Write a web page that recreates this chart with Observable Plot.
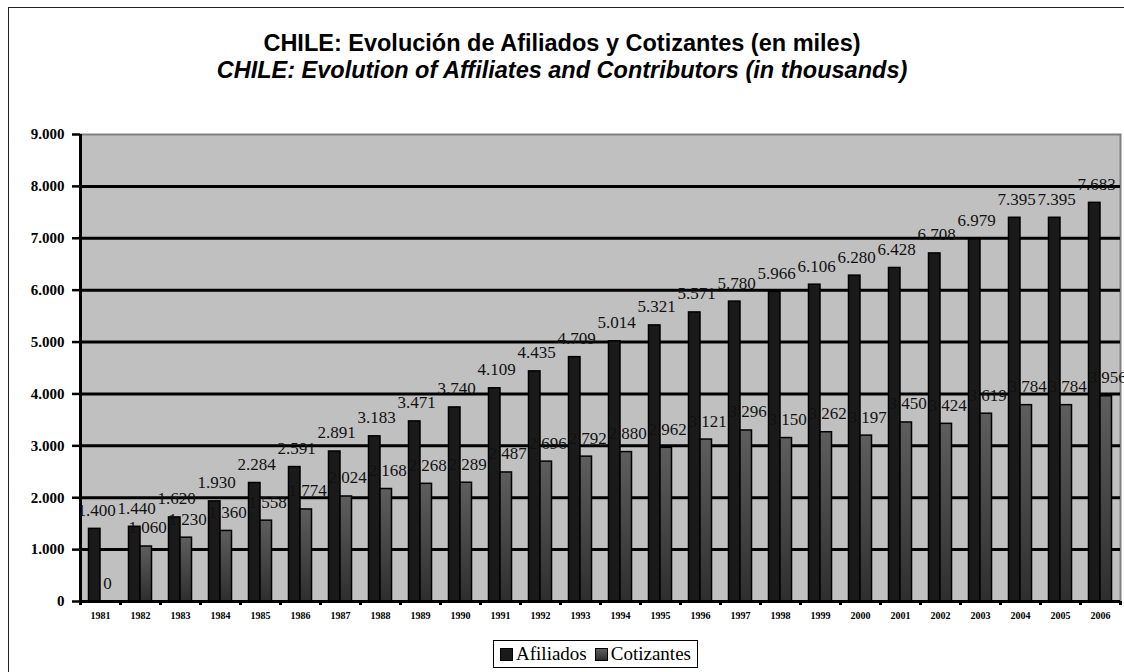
<!DOCTYPE html>
<html>
<head>
<meta charset="utf-8">
<script src="https://cdn.jsdelivr.net/npm/d3@7"></script>
<script src="https://cdn.jsdelivr.net/npm/@observablehq/plot@0.6"></script>
<style>
  body { margin: 0; background: #fff; }
  #wrap { position: relative; width: 1124px; height: 672px; overflow: hidden; background: #fff; }
  #border { position: absolute; left: 8px; top: 7px; width: 1300px; height: 900px; border-left: 1.5px solid #222; border-top: 1.5px solid #222; }
  .t { position: absolute; left: 0; width: 1124px; text-align: center; font-family: "Liberation Sans", Arial, sans-serif; font-weight: bold; font-size: 23.5px; line-height: 28px; color: #000; white-space: nowrap; }
  #chart { position: absolute; left: 0; top: 100px; }
  #legend { position: absolute; left: 493px; top: 640px; width: 203px; height: 26px; border: 1px solid #000; background: #fff; display: flex; align-items: center; justify-content: center; font-family: "Liberation Serif", "Times New Roman", serif; font-size: 19px; color: #000; }
  .sw { display: inline-block; width: 11px; height: 11px; border: 1.5px solid #000; margin-right: 3px; }
</style>
</head>
<body>
<div id="wrap">
  <div id="border"></div>
  <div class="t" style="top:29px;">CHILE: Evolución de Afiliados y Cotizantes (en miles)</div>
  <div class="t" style="top:56px;font-style:italic;">CHILE: Evolution of Affiliates and Contributors (in thousands)</div>
  <div id="chart"></div>
  <div id="legend">
    <span class="sw" style="background:#1a1a1a;"></span><span style="margin-right:8px;">Afiliados</span>
    <span class="sw" style="background:linear-gradient(#5e5e5e,#2e2e2e);"></span><span>Cotizantes</span>
  </div>
</div>
<script>
const years = ["1981","1982","1983","1984","1985","1986","1987","1988","1989","1990","1991","1992","1993","1994","1995","1996","1997","1998","1999","2000","2001","2002","2003","2004","2005","2006"];
const afiliados = [1400,1440,1620,1930,2284,2591,2891,3183,3471,3740,4109,4435,4709,5014,5321,5571,5780,5966,6106,6280,6428,6708,6979,7395,7395,7683];
const cotizantes = [0,1060,1230,1360,1558,1774,2024,2168,2268,2289,2487,2696,2792,2880,2962,3121,3296,3150,3262,3197,3450,3424,3619,3784,3784,3956];
const yTicks = [0,1000,2000,3000,4000,5000,6000,7000,8000,9000];
const gridValues = [1000,2000,3000,4000,5000,6000,7000,8000];

const fmt = d3.formatLocale({decimal: ",", thousands: ".", grouping: [3], currency: ["$", ""]}).format(",d");
const afilData = years.map((y, i) => ({year: y, value: afiliados[i]}));
const cotData = years.map((y, i) => ({year: y, value: cotizantes[i]}));

const plot = Plot.plot({
  width: 1124,
  height: 530,
  marginLeft: 80,
  marginRight: 4,
  marginTop: 34,
  marginBottom: 29,
  style: {fontFamily: "'Liberation Serif', 'Times New Roman', serif", background: "transparent", overflow: "visible", color: "#000"},
  x: {type: "band", domain: years, padding: 0, label: null},
  y: {domain: [0, 9000], label: null},
  marks: [
    Plot.frame({fill: "#c0c0c0", stroke: "#808080", strokeWidth: 2}),
    Plot.ruleY(gridValues, {stroke: "#000", strokeWidth: 3}),
    Plot.barY(afilData, {x: "year", y: "value", fill: "#1a1a1a", stroke: "#000", strokeWidth: 1.5, insetLeft: 8.5, insetRight: 20}),
    Plot.barY(cotData, {x: "year", y: "value", fill: "url(#cotGrad)", stroke: "#000", strokeWidth: 1.5, insetLeft: 20, insetRight: 8.5}),
    Plot.ruleY([0], {stroke: "#000", strokeWidth: 3}),
    Plot.ruleX([years[0]], {dx: -20, stroke: "#000", strokeWidth: 3}),
    Plot.ruleX(years, {dx: -20, y1: 0, y2: 0, insetBottom: -4, stroke: "#000", strokeWidth: 3}),
    Plot.ruleX([years[years.length - 1]], {dx: 20, y1: 0, y2: 0, insetBottom: -4, stroke: "#000", strokeWidth: 3}),
    Plot.axisY({ticks: yTicks, tickFormat: fmt, tickSize: 8, tickPadding: 8, strokeWidth: 2.5, fontSize: 15, fontWeight: "bold", label: null}),
    Plot.axisX({tickSize: 0, tickPadding: 10, fontSize: 10, fontWeight: "bold", label: null}),
    Plot.text(afilData, {x: "year", y: "value", text: d => fmt(d.value), dx: -4, dy: -13, lineAnchor: "bottom", fontSize: 17, fill: "#111"}),
    Plot.text(cotData, {x: "year", y: "value", text: d => fmt(d.value), dx: 7, dy: -13, lineAnchor: "bottom", fontSize: 17, fill: "#111"})
  ]
});

const ns = "http://www.w3.org/2000/svg";
const defs = document.createElementNS(ns, "defs");
defs.innerHTML = '<linearGradient id="cotGrad" x1="0" y1="0" x2="0" y2="1"><stop offset="0" stop-color="#5e5e5e"/><stop offset="1" stop-color="#2e2e2e"/></linearGradient>';
plot.insertBefore(defs, plot.firstChild);
document.getElementById("chart").appendChild(plot);
</script>
</body>
</html>
